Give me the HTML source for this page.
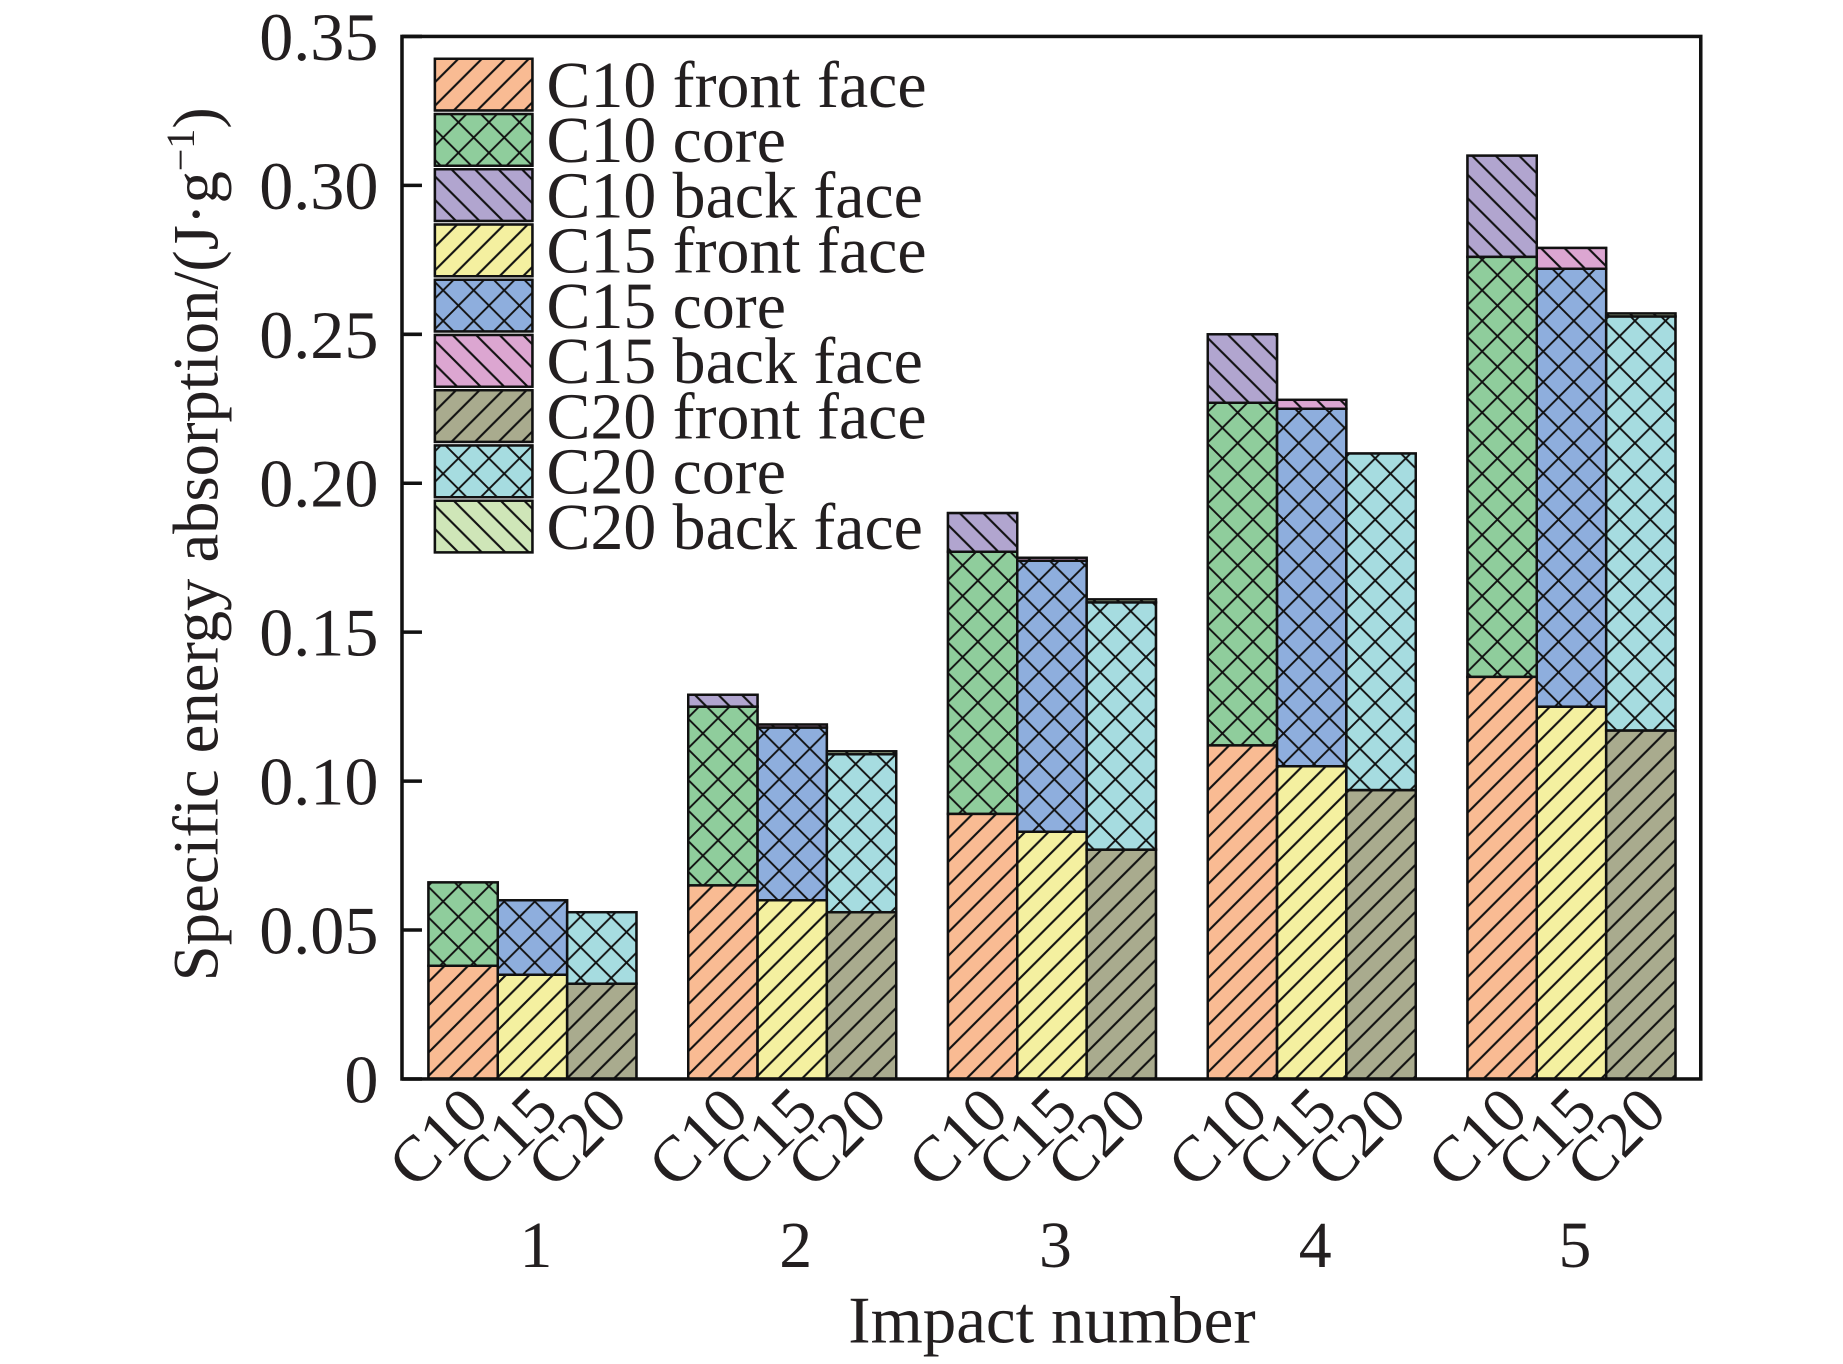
<!DOCTYPE html>
<html><head><meta charset="utf-8">
<style>html,body{margin:0;padding:0;background:#fff}svg{display:block}text{font-family:"Liberation Serif",serif;fill:#231f20}</style>
</head><body>
<svg id="chart" width="1843" height="1364" viewBox="0 0 1568 1160.5" xmlns="http://www.w3.org/2000/svg">
<defs>
<pattern id="fwd" patternUnits="userSpaceOnUse" width="20" height="20"><path d="M-5,25 L25,-5 M-5,5 L5,-5 M15,25 L25,15" stroke="#111" stroke-width="1.8"/></pattern>
<pattern id="bwd" patternUnits="userSpaceOnUse" width="20" height="20"><path d="M-5,-5 L25,25 M-5,15 L5,25 M15,-5 L25,5" stroke="#111" stroke-width="1.8"/></pattern>
<pattern id="cross" patternUnits="userSpaceOnUse" width="26" height="26"><path d="M-5,31 L31,-5 M-5,-5 L31,31 M-5,5 L5,-5 M21,31 L31,21 M-5,21 L5,31 M21,-5 L31,5" stroke="#111" stroke-width="1.6"/></pattern>
</defs>
<g id="plot"></g>
</svg>
<script>
const groups = ["1","2","3","4","5"];
const materials = ["C10","C15","C20"];
const c10Front = [0.038,0.065,0.089,0.112,0.135];
const c10Core  = [0.028,0.060,0.088,0.115,0.141];
const c10Back  = [0.000,0.004,0.013,0.023,0.034];
const c15Front = [0.035,0.060,0.083,0.105,0.125];
const c15Core  = [0.025,0.058,0.091,0.120,0.147];
const c15Back  = [0.000,0.001,0.001,0.003,0.007];
const c20Front = [0.032,0.056,0.077,0.097,0.117];
const c20Core  = [0.024,0.053,0.083,0.113,0.139];
const c20Back  = [0.000,0.001,0.001,0.000,0.001];
const yTicks = [0,0.05,0.10,0.15,0.20,0.25,0.30,0.35];
const yTickLabels = ["0","0.05","0.10","0.15","0.20","0.25","0.30","0.35"];
const legendLabels = ["C10 front face","C10 core","C10 back face","C15 front face","C15 core","C15 back face","C20 front face","C20 core","C20 back face"];

const colors = ["#f9bb93","#8fcd9c","#b1a5cf","#f4f0a0","#8eaedd","#dca6d1","#a9ab8e","#a6dce0","#cfe6b8"];
const pats = ["fwd","cross","bwd"];
const L=342,R=1447,T=31,B=918;
const y = v => B - (v/0.35)*(B-T);
const groupX = i => 453 + 221*i;
const barW = 59;
const NS="http://www.w3.org/2000/svg";
const g=document.getElementById('plot');
function mk(tag,attrs,parent){const e=document.createElementNS(NS,tag);for(const k in attrs)e.setAttribute(k,attrs[k]);(parent||g).appendChild(e);return e;}
function txt(s,attrs){const e=mk('text',attrs);e.textContent=s;return e;}

const series=[[c10Front,c10Core,c10Back],[c15Front,c15Core,c15Back],[c20Front,c20Core,c20Back]];
const segNames=["front","core","back"];
groups.forEach((gname,i)=>{
  materials.forEach((m,j)=>{
    const x0 = groupX(i) + (j-1.5)*barW;
    let acc=0;
    series[j].forEach((arr,k)=>{
      const v=arr[i]; if(v<=0) return;
      const y1=y(acc+v), y0=y(acc);
      const ci=j*3+k;
      const r=mk('rect',{x:x0,y:y1,width:barW,height:y0-y1,fill:colors[ci],stroke:'#111','stroke-width':2});
      
      
      const h=mk('rect',{x:x0,y:y1,width:barW,height:y0-y1,fill:'url(#'+pats[k]+')',stroke:'#111','stroke-width':2});
      
      
      acc+=v;
    });
    const t=txt(m,{x:0,y:0,'font-size':55,'text-anchor':'end',transform:`translate(${x0+barW/2+24},${B+30}) rotate(-45)`});
    
    
  });
  const gl=txt(gname,{x:groupX(i)+3,y:1078,'font-size':56,'text-anchor':'middle'});
  
  
});

const fr=mk('rect',{x:L,y:T,width:R-L,height:B-T,fill:'none',stroke:'#111','stroke-width':3});


yTicks.forEach((v,i)=>{
  const tk=mk('line',{x1:L,x2:L+17,y1:y(v),y2:y(v),stroke:'#111','stroke-width':3});
  
  
  const tl=txt(yTickLabels[i],{x:322,y:y(v)+20,'font-size':58,'text-anchor':'end'});
  
  
});
legendLabels.forEach((lab,i)=>{
  const yy=50+i*47;
  const lg=mk('g',{});
  
  
  mk('rect',{x:370,y:yy,width:83,height:44,fill:colors[i],stroke:'#111','stroke-width':2},lg);
  mk('rect',{x:370,y:yy,width:83,height:44,fill:'url(#'+pats[i%3]+')',stroke:'#111','stroke-width':2},lg);
  const t=document.createElementNS(NS,'text');
  t.setAttribute('x',465);t.setAttribute('y',yy+41);t.setAttribute('font-size',56);
  t.textContent=lab; lg.appendChild(t);
});
</script>
<svg style="position:absolute;left:0;top:0" width="1843" height="1364" viewBox="0 0 1568 1160.5" xmlns="http://www.w3.org/2000/svg">
<text x="895" y="1142" font-size="57" text-anchor="middle" style="font-family:'Liberation Serif',serif;fill:#231f20">Impact number</text>
<text transform="translate(185,463) rotate(-90)" font-size="55" text-anchor="middle" style="font-family:'Liberation Serif',serif;fill:#231f20">Specific energy absorption/(J·g<tspan dy="-20" font-size="34">−1</tspan><tspan dy="20">)</tspan></text>
</svg>
</body></html>
